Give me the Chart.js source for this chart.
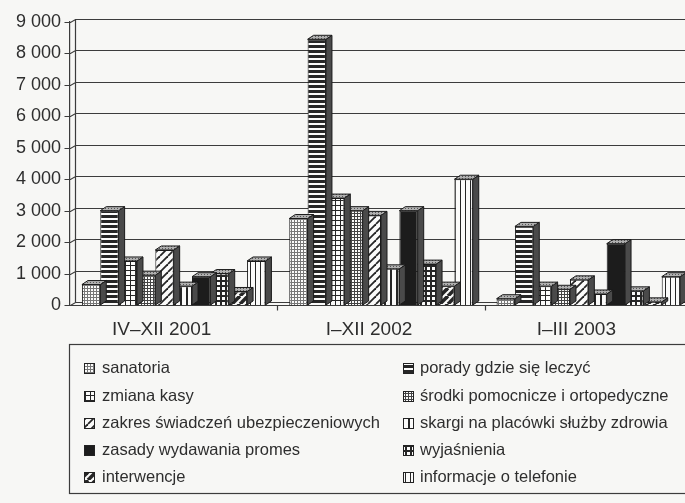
<!DOCTYPE html>
<html lang="pl">
<head>
<meta charset="utf-8">
<script src="https://cdn.jsdelivr.net/npm/chart.js@4.4.1/dist/chart.umd.min.js"></script>
<style>
  html, body { margin: 0; padding: 0; background: #f7f7f5; overflow: hidden; }
  #wrap { width: 685px; height: 503px; position: relative; overflow: hidden; }
</style>
</head>
<body>
<div id="wrap"><canvas id="wykres" width="692" height="503"></canvas></div>
<script>
// okresy
const okresy = ['IV\u2013XII 2001', 'I\u2013XII 2002', 'I\u2013III 2003'];

// liczba zgłoszeń wg tematu
const sanatoria = [650, 2750, 200];
const poradyGdzieSieLeczyc = [3000, 8450, 2500];
const zmianaKasy = [1400, 3400, 600];
const srodkiPomocnicze = [950, 3000, 500];
const zakresSwiadczen = [1750, 2850, 800];
const skargiNaPlacowki = [600, 1150, 350];
const zasadyPromes = [900, 3000, 1950];
const wyjasnienia = [1000, 1300, 450];
const interwencje = [430, 600, 100];
const informacjeOTelefonie = [1400, 4000, 900];

const yTicks = [0, 1000, 2000, 3000, 4000, 5000, 6000, 7000, 8000, 9000];

const FONT = "'Liberation Sans', Arial, sans-serif";
const INK = '#262626';
const LINE = '#3c3c3c';
const DX = 6, DY = 4;      // głębokość słupków 3D
const WX = 5, WY = 3;      // głębokość ściany

// wzory wypełnień (kafelki)
function tile(w, h, draw) {
  const c = document.createElement('canvas');
  c.width = w; c.height = h;
  const g = c.getContext('2d');
  g.fillStyle = '#fbfbfa';
  g.fillRect(0, 0, w, h);
  g.fillStyle = INK;
  g.strokeStyle = INK;
  draw(g, w, h);
  return c.getContext('2d').createPattern(c, 'repeat');
}
const wzory = {
  kropki: tile(3, 3, (g) => { g.fillStyle = '#777'; g.fillRect(0, 0, 3, 1); g.fillRect(0, 0, 1, 3); }),
  poziome: tile(4, 5, (g) => { g.fillRect(0, 0, 4, 3); }),
  krata: tile(5, 5, (g) => { g.fillRect(0, 0, 5, 1); g.fillRect(0, 0, 1, 5); }),
  drobnaKrata: tile(3, 3, (g) => { g.fillStyle = '#444'; g.fillRect(0, 0, 3, 1); g.fillRect(0, 0, 1, 3); }),
  ukosne: tile(8, 8, (g) => {
    g.lineWidth = 1.8;
    for (let k = -8; k <= 16; k += 8) { g.beginPath(); g.moveTo(k, 8); g.lineTo(k + 8, 0); g.stroke(); }
  }),
  pionowe: tile(6, 4, (g) => { g.fillRect(0, 0, 2, 4); }),
  pelne: '#1c1c1c',
  grubaKrata: tile(5, 5, (g) => { g.fillRect(0, 0, 5, 2); g.fillRect(0, 0, 2, 5); }),
  grubeUkosne: tile(8, 8, (g) => {
    g.lineWidth = 3.6;
    for (let k = -8; k <= 16; k += 8) { g.beginPath(); g.moveTo(k, 8); g.lineTo(k + 8, 0); g.stroke(); }
  }),
  cienkiePionowe: tile(5, 4, (g) => { g.fillRect(0, 0, 1, 4); }),
  wierzch: tile(3, 2, (g) => { g.fillStyle = '#b0b0b0'; g.fillRect(0, 0, 3, 2); g.fillStyle = '#555'; g.fillRect(0, 0, 1, 1); })
};

const serie = [
  { label: 'sanatoria', data: sanatoria, wzor: wzory.kropki },
  { label: 'porady gdzie się leczyć', data: poradyGdzieSieLeczyc, wzor: wzory.poziome },
  { label: 'zmiana kasy', data: zmianaKasy, wzor: wzory.krata },
  { label: 'środki pomocnicze i ortopedyczne', data: srodkiPomocnicze, wzor: wzory.drobnaKrata },
  { label: 'zakres świadczeń ubezpieczeniowych', data: zakresSwiadczen, wzor: wzory.ukosne },
  { label: 'skargi na placówki służby zdrowia', data: skargiNaPlacowki, wzor: wzory.pionowe },
  { label: 'zasady wydawania promes', data: zasadyPromes, wzor: wzory.pelne },
  { label: 'wyjaśnienia', data: wyjasnienia, wzor: wzory.grubaKrata },
  { label: 'interwencje', data: interwencje, wzor: wzory.grubeUkosne },
  { label: 'informacje o telefonie', data: informacjeOTelefonie, wzor: wzory.cienkiePionowe }
];

function tysiace(v) {
  return String(v).replace(/\B(?=(\d{3})+(?!\d))/g, ' ');
}

function polygon(ctx, pts, fill) {
  ctx.beginPath();
  ctx.moveTo(pts[0][0], pts[0][1]);
  for (let i = 1; i < pts.length; i++) ctx.lineTo(pts[i][0], pts[i][1]);
  ctx.closePath();
  ctx.fillStyle = fill;
  ctx.fill();
  ctx.stroke();
}

// ściana, podłoga i linie siatki
const sciana = {
  id: 'sciana',
  beforeDatasetsDraw(chart) {
    const { ctx, chartArea: a, scales: { x, y } } = chart;
    const y0 = Math.round(y.getPixelForValue(0)) + 0.5;
    const lx = Math.round(a.left) + 0.5;
    ctx.save();
    ctx.strokeStyle = LINE;
    ctx.lineWidth = 1.2;
    ctx.beginPath();
    ctx.moveTo(lx + WX, y.getPixelForValue(9000) - WY);
    ctx.lineTo(lx + WX, y0 - WY);
    for (const v of yTicks) {
      const py = Math.round(y.getPixelForValue(v)) + 0.5;
      ctx.moveTo(lx - 6, py);
      ctx.lineTo(lx, py);
      ctx.lineTo(lx + WX, py - WY);
      ctx.lineTo(a.right, py - WY);
    }
    ctx.moveTo(lx, y0);
    ctx.lineTo(a.right, y0);
    for (let i = 1; i < okresy.length; i++) {
      const px = Math.round((x.getPixelForTick(i - 1) + x.getPixelForTick(i)) / 2) + 0.5;
      ctx.moveTo(px, y0);
      ctx.lineTo(px, y0 + 5);
    }
    ctx.stroke();
    ctx.restore();
  },
  // boki i wierzchy słupków
  beforeDatasetDraw(chart, args) {
    const { ctx } = chart;
    const meta = chart.getDatasetMeta(args.index);
    ctx.save();
    ctx.strokeStyle = '#1a1a1a';
    ctx.lineWidth = 1;
    for (const bar of meta.data) {
      const l = bar.x - bar.width / 2, r = bar.x + bar.width / 2;
      const t = bar.y, b = bar.base;
      polygon(ctx, [[r, t], [r + DX, t - DY], [r + DX, b - DY], [r, b]], '#4a4a4a');
      polygon(ctx, [[l, t], [l + DX, t - DY], [r + DX, t - DY], [r, t]], wzory.wierzch);
    }
    ctx.restore();
  }
};

// legenda w ramce, dwie kolumny
const legenda = {
  id: 'legenda',
  afterDraw(chart) {
    const { ctx } = chart;
    ctx.save();
    ctx.strokeStyle = LINE;
    ctx.lineWidth = 1.2;
    ctx.strokeRect(69.5, 344.5, 640, 149);
    ctx.font = '16.5px ' + FONT;
    ctx.textBaseline = 'middle';
    const kolumny = [{ sx: 84, tx: 102 }, { sx: 403, tx: 420 }];
    const wiersze = [368, 396, 423, 450, 477];
    serie.forEach((s, i) => {
      const k = kolumny[i % 2];
      const w = wiersze[Math.floor(i / 2)];
      ctx.fillStyle = s.wzor;
      ctx.fillRect(k.sx, w - 5, 11, 11);
      ctx.strokeStyle = '#222';
      ctx.lineWidth = 1;
      ctx.strokeRect(k.sx + 0.5, w - 4.5, 10, 10);
      ctx.fillStyle = '#2e2e2e';
      ctx.fillText(s.label, k.tx, w);
    });
    ctx.restore();
  }
};

new Chart(document.getElementById('wykres'), {
  type: 'bar',
  data: {
    labels: okresy,
    datasets: serie.map((s) => ({
      label: s.label,
      data: s.data,
      backgroundColor: s.wzor,
      borderColor: '#1a1a1a',
      borderWidth: 1,
      borderSkipped: 'start'
    }))
  },
  options: {
    responsive: false,
    animation: false,
    devicePixelRatio: 1,
    categoryPercentage: 0.885,
    barPercentage: 1,
    layout: { padding: { top: 22, right: 0, left: 0, bottom: 0 } },
    plugins: { legend: { display: false }, tooltip: { enabled: false } },
    scales: {
      x: {
        afterFit: (sc) => { sc.height = 198; },
        grid: { display: false, drawTicks: false },
        border: { display: false },
        ticks: {
          color: '#2e2e2e',
          padding: 13,
          labelOffset: -12,
          maxRotation: 0,
          autoSkip: false,
          font: { family: FONT, size: 19 }
        }
      },
      y: {
        min: 0,
        max: 9000,
        afterBuildTicks: (sc) => { sc.ticks = yTicks.map((v) => ({ value: v })); },
        afterFit: (sc) => { sc.width = 70; },
        grid: { display: false, drawTicks: false },
        border: { display: true, color: LINE, width: 1.2 },
        ticks: {
          callback: (v) => tysiace(v),
          color: '#2e2e2e',
          padding: 9,
          font: { family: FONT, size: 18 }
        }
      }
    }
  },
  plugins: [sciana, legenda]
});
</script>
</body>
</html>
